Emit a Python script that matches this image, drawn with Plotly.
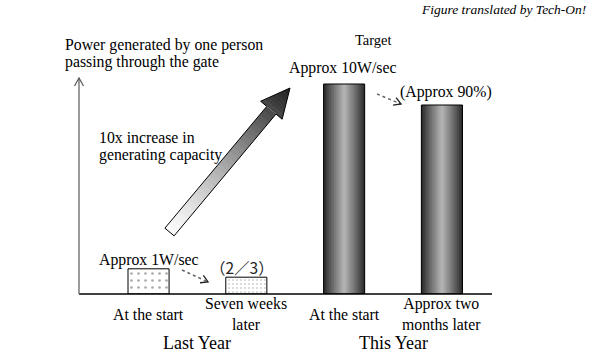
import math
import plotly.graph_objects as go

# ---- data ----
bar_labels = ["At the start", "Seven weeks<br>later", "At the start", "Approx two<br>months later"]
groups = ["Last Year", "Last Year", "This Year", "This Year"]
group_names = ["Last Year", "This Year"]
power_w = [1.2, 0.8, 10.0, 9.0]   # W/sec per person
value_notes = ["Approx 1W/sec", "（2／3）", "Approx 10W/sec", "(Approx 90%)"]

xi = list(range(len(bar_labels)))

W, H = 600, 360
L, R, T, B = 79, 492, 74, 294
SERIF = "Liberation Serif"

def px(x):
    return (x - L) / (R - L)

def py(y):
    return (B - y) / (B - T)

fig = go.Figure()

# dotted (pattern) bars for last year
fig.add_trace(go.Bar(
    x=xi[:2], y=power_w[:2], width=0.42,
    marker=dict(color="white", line=dict(color="black", width=1),
                pattern=dict(shape=".", fgcolor="#555", bgcolor="white",
                             size=[7, 4], solidity=0.12)),
    hoverinfo="skip", showlegend=False))

# cylindrical gradient bars for this year (overlaid layers)
n_layers = 12
for k in range(n_layers):
    f = k / (n_layers - 1)
    w = 0.42 * (1 - f) + 0.03 * f
    g = int(45 + (178 - 45) * (f ** 0.9))
    fig.add_trace(go.Bar(
        x=xi[2:], y=power_w[2:], width=w,
        marker=dict(color=f"rgb({g},{g},{g})", line=dict(width=0)),
        hoverinfo="skip", showlegend=False))
fig.add_trace(go.Bar(
    x=xi[2:], y=power_w[2:], width=0.42,
    marker=dict(color="rgba(0,0,0,0)", line=dict(color="black", width=1)),
    hoverinfo="skip", showlegend=False))

shapes = []
# baseline and y axis with arrow
shapes.append(dict(type="line", xref="paper", yref="paper", x0=px(79), x1=px(492),
                   y0=0, y1=0, line=dict(color="black", width=1.5)))
shapes.append(dict(type="line", xref="paper", yref="paper", x0=px(79), x1=px(79),
                   y0=0, y1=py(78), line=dict(color="#7a7a7a", width=1.5)))
shapes.append(dict(type="path", xref="paper", yref="paper",
                   path=f"M {px(74.5)},{py(86)} L {px(79)},{py(78)} L {px(83.5)},{py(86)}",
                   line=dict(color="#555", width=1.2)))

# big gradient arrow
T0 = (169.5, 232.0)
tip = (290.0, 88.0)
dx, dy = tip[0] - T0[0], tip[1] - T0[1]
Lt = math.hypot(dx, dy)
d = (dx / Lt, dy / Lt)
n = (-d[1], d[0])
hw, hh, Ls = 6.0, 14.0, Lt - 29

def P(s, t):
    return (T0[0] + s * d[0] + t * n[0], T0[1] + s * d[1] + t * n[1])

def gray(s):
    f = s / Lt
    return int(252 - 222 * (f ** 1.25))

def poly(pts):
    return "M " + " L ".join(f"{px(a)},{py(b)}" for a, b in pts) + " Z"

N = 30
for i in range(N):
    s0 = i * Ls / N
    s1 = min((i + 1) * Ls / N + 0.6, Ls)
    g = gray((s0 + s1) / 2)
    shapes.append(dict(type="path", xref="paper", yref="paper",
                       path=poly([P(s0, -hw), P(s1, -hw), P(s1, hw), P(s0, hw)]),
                       fillcolor=f"rgb({g},{g},{g})", line=dict(width=0)))
NH = 8
for i in range(NH):
    s0 = Ls + i * (Lt - Ls) / NH
    s1 = min(Ls + (i + 1) * (Lt - Ls) / NH + 0.4, Lt)
    w0 = hh * (Lt - s0) / (Lt - Ls)
    w1 = hh * (Lt - s1) / (Lt - Ls)
    g = gray((s0 + s1) / 2)
    shapes.append(dict(type="path", xref="paper", yref="paper",
                       path=poly([P(s0, -w0), P(s1, -w1), P(s1, w1), P(s0, w0)]),
                       fillcolor=f"rgb({g},{g},{g})", line=dict(width=0)))
shapes.append(dict(type="path", xref="paper", yref="paper",
                   path=poly([P(0, -hw), P(Ls, -hw), P(Ls, -hh), P(Lt, 0),
                              P(Ls, hh), P(Ls, hw), P(0, hw)]),
                   line=dict(color="black", width=1)))

# dotted pointer arrows
def dotted_arrow(x0, y0, x1, y1):
    shapes.append(dict(type="line", xref="paper", yref="paper",
                       x0=px(x0), y0=py(y0), x1=px(x1), y1=py(y1),
                       line=dict(color="#666", width=1.5, dash="dot")))
    ang = math.atan2(y1 - y0, x1 - x0)
    hl = 8
    a1 = ang + math.radians(150)
    a2 = ang - math.radians(150)
    shapes.append(dict(type="path", xref="paper", yref="paper",
                       path=(f"M {px(x1 + hl*math.cos(a1))},{py(y1 + hl*math.sin(a1))} "
                             f"L {px(x1)},{py(y1)} "
                             f"L {px(x1 + hl*math.cos(a2))},{py(y1 + hl*math.sin(a2))}"),
                       line=dict(color="#222", width=1.3)))

dotted_arrow(182, 270, 208, 282)
dotted_arrow(377, 94, 401, 104)

ann = []
def txt(x, y, s, size=15.8, anchor="left", font=SERIF, color="black"):
    ann.append(dict(xref="paper", yref="paper", x=px(x), y=py(y), text=s,
                    showarrow=False, xanchor=anchor, yanchor="middle",
                    font=dict(family=font, size=size, color=color)))

txt(588, 10, "<i>Figure translated by Tech-On!</i>", size=13.5, anchor="right")
txt(63, 45, "Power generated by one person")
txt(63, 62, "passing through the gate")
txt(373, 40, "Target", size=14.5, anchor="center")
txt(287, 68, value_notes[2])
txt(398, 92, value_notes[3])
txt(97, 137, "10x increase in")
txt(97, 155, "generating capacity")
txt(97, 260, value_notes[0])
txt(208, 267, value_notes[1], size=15.5,
    font="Noto Sans CJK JP", color="#222")

# category labels
for i, lab in enumerate(bar_labels):
    ann.append(dict(xref="x", yref="paper", x=xi[i], y=py(314), text=lab,
                    showarrow=False, xanchor="center", yanchor="middle",
                    font=dict(family=SERIF, size=15.8, color="black")))
# group labels
for gname in group_names:
    idx = [i for i, g in enumerate(groups) if g == gname]
    ann.append(dict(xref="x", yref="paper", x=sum(idx) / len(idx), y=py(343), text=gname,
                    showarrow=False, xanchor="center", yanchor="middle",
                    font=dict(family=SERIF, size=18, color="black")))

fig.update_layout(
    width=W, height=H,
    margin=dict(l=L, r=W - R, t=T, b=H - B, pad=0),
    paper_bgcolor="white", plot_bgcolor="white",
    barmode="overlay", showlegend=False,
    font=dict(family=SERIF),
    xaxis=dict(range=[-0.711, 3.512], showgrid=False, zeroline=False,
               showline=False, showticklabels=False, ticks="", fixedrange=True),
    yaxis=dict(range=[0, 10.476], showgrid=False, zeroline=False,
               showline=False, showticklabels=False, ticks="", fixedrange=True),
    shapes=shapes, annotations=ann,
)

fig.write_html("out.html", config={"displayModeBar": False},
               post_script="document.body.style.margin='0px';")
